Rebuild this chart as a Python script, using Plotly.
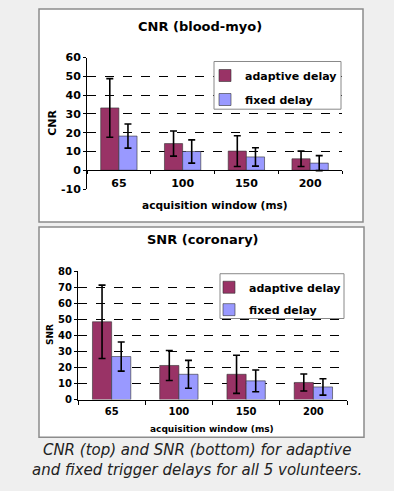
import plotly.graph_objects as go

W, H = 394, 491

categories = ["65", "100", "150", "200"]
series_names = ["adaptive delay", "fixed delay"]

cnr_adaptive = [33.2, 14.2, 10.2, 6.1]
cnr_adaptive_err = [15.6, 6.7, 8.2, 4.1]
cnr_fixed = [18.2, 10.0, 7.1, 3.8]
cnr_fixed_err = [6.4, 6.2, 4.9, 4.0]

snr_adaptive = [48.6, 21.3, 15.8, 10.7]
snr_adaptive_err = [22.9, 9.4, 11.9, 5.3]
snr_fixed = [26.9, 15.8, 11.7, 7.9]
snr_fixed_err = [9.1, 8.7, 6.8, 5.1]

cnr_ticks = [-10, 0, 10, 20, 30, 40, 50, 60]
cnr_ticktext = ["-10", "0", "10", "20", "30", "40", "50", "60"]
snr_ticks = [0, 10, 20, 30, 40, 50, 60, 70, 80]

colors = ["#993366", "#9999ff"]
FONT = "DejaVu Sans"


def px_x(p):
    return p / W


def px_y(p):
    return 1 - p / H


fig = go.Figure()

for i, (vals, errs) in enumerate([(cnr_adaptive, cnr_adaptive_err), (cnr_fixed, cnr_fixed_err)]):
    fig.add_trace(go.Bar(
        x=categories, y=vals, name=series_names[i],
        marker=dict(color=colors[i], line=dict(color="#333333", width=0.6)),
        error_y=dict(type="data", array=errs, visible=True, color="black", thickness=1.6, width=3.5),
        xaxis="x", yaxis="y", legend="legend", legendgroup="g%d" % i,
    ))

for i, (vals, errs) in enumerate([(snr_adaptive, snr_adaptive_err), (snr_fixed, snr_fixed_err)]):
    fig.add_trace(go.Bar(
        x=categories, y=vals, name=series_names[i],
        marker=dict(color=colors[i], line=dict(color="#333333", width=0.6)),
        error_y=dict(type="data", array=errs, visible=True, color="black", thickness=1.6, width=3.5),
        xaxis="x2", yaxis="y2", legend="legend2", legendgroup="h%d" % i,
    ))

# top chart geometry (pixels)
t_x0, t_x1, t_ytop, t_ybot = 87, 342, 53, 188
t_zero = t_ybot - (t_ybot - t_ytop) * 10 / 70
# bottom chart geometry
b_x0, b_x1, b_ytop, b_ybot = 78, 347, 272.7, 404.3

tickfont_top = dict(family=FONT, size=11, color="black", weight="bold")
tickfont_bot = dict(family=FONT, size=10, color="black", weight="bold")
legfont = dict(family=FONT, size=11, color="black", weight="bold")


def ann(text, x, y, size, angle=0, style="normal", color="black", weight="bold"):
    return dict(text=text, x=px_x(x), y=px_y(y), xref="paper", yref="paper",
                xanchor="center", yanchor="middle", textangle=angle,
                showarrow=False, align="center",
                font=dict(family=FONT, size=size, color=color, weight=weight, style=style))


def rect(x0, y0, x1, y1, layer, width=1.5, color="#8c8c8c"):
    return dict(type="rect", xref="paper", yref="paper", layer=layer,
                x0=px_x(x0), x1=px_x(x1), y0=px_y(y1), y1=px_y(y0),
                fillcolor="white", line=dict(color=color, width=width))


fig.update_layout(
    width=W, height=H,
    margin=dict(l=0, r=0, t=0, b=0),
    paper_bgcolor="#efefef",
    plot_bgcolor="rgba(0,0,0,0)",
    barmode="group",
    bargap=0.43,
    bargroupgap=0,
    showlegend=True,
    xaxis=dict(
        domain=[px_x(t_x0), px_x(t_x1)], anchor="free", position=px_y(t_zero),
        type="category", categoryorder="array", categoryarray=categories,
        showline=True, linecolor="black", linewidth=1,
        ticks="outside", tickson="boundaries", ticklen=3, tickcolor="black",
        tickfont=tickfont_top, showgrid=False, ticklabelstandoff=3,
    ),
    yaxis=dict(
        domain=[px_y(t_ybot), px_y(t_ytop)], anchor="x",
        range=[-10, 60], tickvals=cnr_ticks, ticktext=cnr_ticktext,
        showline=True, linecolor="black", linewidth=1,
        ticks="outside", ticklen=3, tickcolor="black",
        showgrid=True, gridcolor="black", griddash="dash", gridwidth=1,
        zeroline=False, tickfont=tickfont_top,
    ),
    xaxis2=dict(
        domain=[px_x(b_x0), px_x(b_x1)], anchor="y2",
        type="category", categoryorder="array", categoryarray=categories,
        showline=True, linecolor="black", linewidth=1,
        ticks="outside", tickson="boundaries", ticklen=4, tickcolor="black",
        tickfont=tickfont_bot, showgrid=False, ticklabelstandoff=2,
    ),
    yaxis2=dict(
        domain=[px_y(b_ybot), px_y(b_ytop)], anchor="x2",
        range=[0, 80], tickvals=snr_ticks,
        showline=True, linecolor="black", linewidth=1,
        ticks="outside", ticklen=3, tickcolor="black",
        showgrid=True, gridcolor="black", griddash="dash", gridwidth=1,
        zeroline=False, tickfont=tickfont_bot,
    ),
    legend=dict(
        x=px_x(205), y=px_y(56.5), xanchor="left", yanchor="top",
        bgcolor="rgba(0,0,0,0)", borderwidth=0,
        font=legfont, tracegroupgap=5, itemwidth=30,
    ),
    legend2=dict(
        x=px_x(209), y=px_y(274), xanchor="left", yanchor="top",
        bgcolor="rgba(0,0,0,0)", borderwidth=0,
        font=legfont, tracegroupgap=3.4, itemwidth=30,
    ),
    shapes=[
        rect(39, 3, 363, 222, "below"),
        rect(39, 227, 364, 443, "below"),
        rect(214, 57, 341, 106, "above", width=1, color="#888888"),
        rect(220, 275, 344, 321, "above", width=1, color="#888888"),
    ],
    annotations=[
        ann("CNR (blood-myo)", 200, 21, 13),
        ann("acquisition window (ms)", 215, 204, 10.6),
        ann("CNR", 53, 120, 11, angle=-90),
        ann("SNR (coronary)", 203, 240, 13),
        ann("acquisition window (ms)", 212, 434, 9),
        ann("SNR", 50, 338, 9, angle=-90),
        ann("CNR (top) and SNR (bottom) for adaptive<br>and fixed trigger delays for all 5 volunteers.",
            197, 466, 15, style="italic", color="#222222", weight="normal"),
    ],
)

fig.write_html(
    "out.html",
    config={"displayModeBar": False},
    post_script="document.body.style.margin='0';document.body.style.overflow='hidden';",
)
